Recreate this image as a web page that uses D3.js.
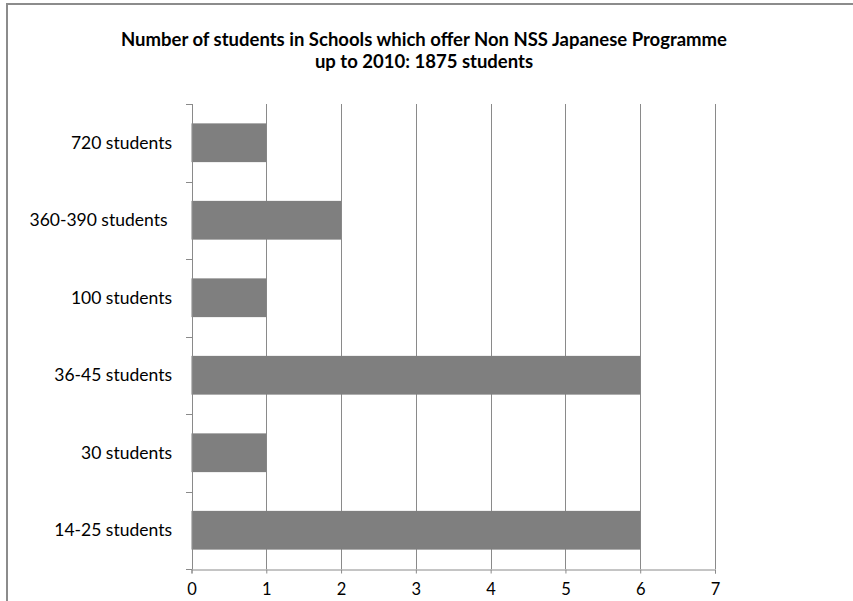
<!DOCTYPE html>
<html>
<head>
<meta charset="utf-8">
<script src="https://cdn.jsdelivr.net/npm/d3@7"></script>
<style>
  html, body { margin: 0; padding: 0; background: #fff; }
  svg { display: block; }
  text { font-family: Lato, "Open Sans", "Liberation Sans", sans-serif; fill: #000; }
</style>
</head>
<body>
<svg id="chart" width="853" height="601"></svg>
<script>
// Schools grouped by enrolment size, counted per group
const categories = ["720 students", "360-390 students ", "100 students", "36-45 students", "30 students", "14-25 students"];
const schoolCounts = [1, 2, 1, 6, 1, 6];
const xTicks = [0, 1, 2, 3, 4, 5, 6, 7];
const titleLines = [
  "Number of students in Schools which offer Non NSS Japanese Programme",
  "up to 2010: 1875 students"
];

const svg = d3.select("#chart");
const W = 853, H = 601;
const plot = { left: 191.5, right: 715, top: 104, bottom: 569 };

// Frame lines (top and left edges of the chart area)
svg.append("path")
  .attr("d", `M7,${H} L7,4 L${W},4`)
  .attr("fill", "none")
  .attr("stroke", "#8c8c8c")
  .attr("stroke-width", 2);

// Title
svg.append("g").selectAll("text")
  .data(titleLines)
  .join("text")
  .attr("x", 424)
  .attr("y", (d, i) => 46 + i * 21.5)
  .attr("text-anchor", "middle")
  .attr("font-size", 18.5)
  .attr("font-weight", "bold")
  .text(d => d);

const x = d3.scaleLinear().domain([0, 7]).range([plot.left, plot.right]);
const y = d3.scaleBand().domain(categories).range([plot.top, plot.bottom]).paddingInner(0.5).paddingOuter(0.25);
const yEdges = d3.scaleLinear().domain([0, categories.length]).range([plot.top, plot.bottom]);

// Vertical gridlines
svg.append("g").selectAll("line")
  .data(xTicks.slice(1))
  .join("line")
  .attr("x1", d => Math.round(x(d)) + 0.5)
  .attr("x2", d => Math.round(x(d)) + 0.5)
  .attr("y1", plot.top)
  .attr("y2", plot.bottom)
  .attr("stroke", "#8a8a8a")
  .attr("stroke-width", 1);

// Bars
svg.append("g").selectAll("rect")
  .data(categories.map((c, i) => ({ c, v: schoolCounts[i] })))
  .join("rect")
  .attr("x", x(0))
  .attr("y", d => y(d.c))
  .attr("width", d => x(d.v) - x(0))
  .attr("height", y.bandwidth())
  .attr("fill", "#7f7f7f");

// Category axis: line, ticks at band edges, labels
const gy = svg.append("g");
gy.append("line")
  .attr("x1", Math.round(plot.left) + 0.5).attr("x2", Math.round(plot.left) + 0.5)
  .attr("y1", plot.top).attr("y2", plot.bottom)
  .attr("stroke", "#8a8a8a");
gy.selectAll("line.tick")
  .data(d3.range(categories.length + 1))
  .join("line")
  .attr("class", "tick")
  .attr("x1", Math.round(plot.left) - 6).attr("x2", Math.round(plot.left) + 0.5)
  .attr("y1", d => Math.round(yEdges(d)) + 0.5)
  .attr("y2", d => Math.round(yEdges(d)) + 0.5)
  .attr("stroke", "#8a8a8a");
gy.selectAll("text")
  .data(categories)
  .join("text")
  .attr("x", 172)
  .attr("y", d => y(d) + y.bandwidth() / 2)
  .attr("dy", "0.35em")
  .attr("text-anchor", "end")
  .attr("font-size", 17.5)
  .style("white-space", "pre")
  .text(d => d);

// Value axis along the bottom
const gx = svg.append("g").attr("transform", `translate(0,${plot.bottom + 0.5})`);
gx.call(d3.axisBottom(x).tickValues(xTicks).tickFormat(d3.format("d")).tickSize(4).tickPadding(10));
gx.select(".domain").attr("stroke", "#8a8a8a");
gx.selectAll(".tick line").attr("stroke", "#8a8a8a");
gx.selectAll(".tick text")
  .attr("font-size", 16.5)
  .attr("font-family", 'Lato, "Open Sans", "Liberation Sans", sans-serif')
  .attr("fill", "#000");
</script>
</body>
</html>
